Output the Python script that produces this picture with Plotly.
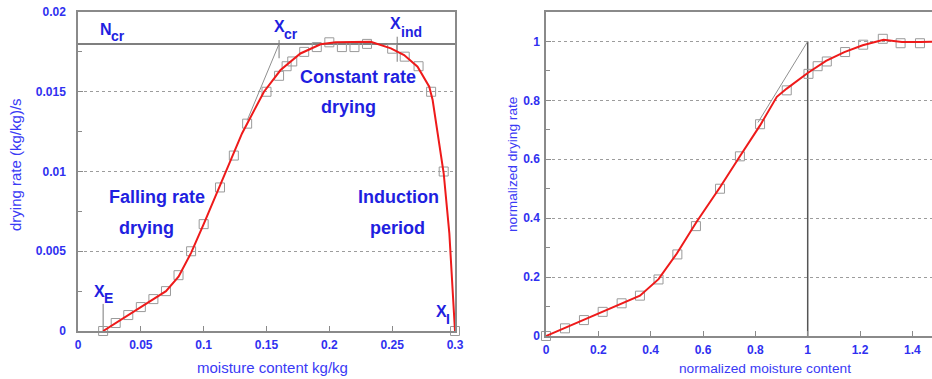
import plotly.graph_objects as go

# ---------------- data: drying-rate curve (left panel) ----------------
moisture = [0.02, 0.03, 0.04, 0.05, 0.06, 0.07, 0.08, 0.09, 0.10, 0.113,
            0.124, 0.1346, 0.15, 0.16, 0.166, 0.1705, 0.18, 0.19, 0.20, 0.21,
            0.22, 0.23, 0.25, 0.26, 0.271, 0.281, 0.291, 0.30]
rate = [0.0, 0.0005, 0.001, 0.0015, 0.002, 0.0025, 0.0035, 0.005, 0.0067, 0.009,
        0.011, 0.013, 0.015, 0.016, 0.0166, 0.0169, 0.0175, 0.0178, 0.0181, 0.0178,
        0.0178, 0.0180, 0.0177, 0.0172, 0.0166, 0.015, 0.010, 0.0]

fit_moisture = [0.02, 0.03, 0.04, 0.05, 0.06, 0.07, 0.08, 0.09, 0.10, 0.113,
                0.124, 0.1306, 0.148, 0.1612, 0.177, 0.193, 0.205, 0.22, 0.233,
                0.249, 0.2595, 0.2702, 0.2795, 0.2822, 0.2875, 0.291, 0.2955, 0.30]
fit_rate = [0.0, 0.0005, 0.001, 0.0015, 0.002, 0.0025, 0.0034, 0.0049, 0.0067, 0.0091,
            0.0112, 0.0124, 0.0150, 0.01636, 0.0174, 0.01798, 0.0181, 0.0181, 0.01813,
            0.01772, 0.0173, 0.01657, 0.01532, 0.01448, 0.01177, 0.00989, 0.00612, 0.0]

# characteristic moisture contents and critical rate
X_E = 0.02
X_CR = 0.16
X_IND = 0.254
N_CR = 0.018
tangent_moisture = [0.1346, X_CR]
tangent_rate = [0.0132, N_CR]

# ---------------- data: normalised curve (right panel) ----------------
norm_moisture = [0.0, 0.0726, 0.145, 0.2166, 0.289, 0.359, 0.43, 0.502, 0.573, 0.665,
                 0.741, 0.818, 0.92, 1.003, 1.038, 1.073, 1.143, 1.212, 1.287, 1.355, 1.429]
norm_rate = [0.0, 0.026, 0.054, 0.082, 0.111, 0.137, 0.192, 0.277, 0.373, 0.50,
             0.61, 0.719, 0.834, 0.89, 0.916, 0.932, 0.964, 0.989, 1.009, 0.994, 0.994]

fit_norm_moisture = [0.0, 0.0726, 0.145, 0.217, 0.289, 0.359, 0.43, 0.50, 0.575, 0.665,
                     0.741, 0.818, 0.882, 0.92, 1.0, 1.07, 1.14, 1.21, 1.29, 1.36, 1.43, 1.5]
fit_norm_rate = [0.0, 0.028, 0.056, 0.084, 0.11, 0.137, 0.193, 0.28, 0.387, 0.505,
                 0.61, 0.715, 0.812, 0.84, 0.893, 0.934, 0.964, 0.987, 1.006, 0.998, 0.998, 1.0]

norm_tangent_moisture = [0.81, 1.0]
norm_tangent_rate = [0.725, 1.0]

# ---------------- styling ----------------
FONT = "Liberation Sans, Arial, sans-serif"
BLUE = "#1f1fe0"
TICK_BLUE = "#3030f0"
RED = "#ee1a1a"
MARK_GRAY = "#9a9a9a"
AXIS_GRAY = "#8a8a8a"
REF_GRAY = "#555555"
GRID_GRAY = "#9c9c9c"
W, H = 932, 379


def px_x(p):
    return p / W


def px_y(p):
    return 1 - p / H


def line_trace(x, y, color, width, xa, ya):
    return go.Scatter(x=x, y=y, mode="lines", line=dict(color=color, width=width),
                      hoverinfo="skip", xaxis=xa, yaxis=ya, cliponaxis=False)


fig = go.Figure()

# left panel
fig.add_trace(line_trace([0, 0.3], [N_CR, N_CR], REF_GRAY, 1.5, "x", "y"))
fig.add_trace(line_trace(tangent_moisture, tangent_rate, "#8f8f8f", 1, "x", "y"))
fig.add_trace(line_trace([X_CR, X_CR], [0.0171, 0.01824], "#7a7a7a", 1, "x", "y"))
fig.add_trace(line_trace([X_IND, X_IND], [0.01688, 0.01845], "#7a7a7a", 1, "x", "y"))
fig.add_trace(line_trace([X_E, X_E], [0, 0.0017], "#7a7a7a", 1, "x", "y"))
fig.add_trace(go.Scatter(x=moisture, y=rate, mode="markers",
                         marker=dict(symbol="square-open", size=9, color=MARK_GRAY,
                                     line=dict(width=1)),
                         xaxis="x", yaxis="y", cliponaxis=False))
fig.add_trace(line_trace(fit_moisture, fit_rate, RED, 2, "x", "y"))

# right panel
fig.add_trace(line_trace([1.0, 1.0], [0, 1.0], REF_GRAY, 1.5, "x2", "y2"))
fig.add_trace(line_trace(norm_tangent_moisture, norm_tangent_rate, "#8f8f8f", 1, "x2", "y2"))
fig.add_trace(go.Scatter(x=norm_moisture, y=norm_rate, mode="markers",
                         marker=dict(symbol="square-open", size=9, color=MARK_GRAY,
                                     line=dict(width=1)),
                         xaxis="x2", yaxis="y2", cliponaxis=False))
fig.add_trace(go.Scatter(x=fit_norm_moisture, y=fit_norm_rate, mode="lines",
                         line=dict(color=RED, width=2), xaxis="x2", yaxis="y2"))

tickfont = dict(family=FONT, size=12, color=TICK_BLUE, weight="bold")
common_axis = dict(showline=True, linecolor=AXIS_GRAY, linewidth=1.5,
                   ticks="inside", ticklen=5, tickcolor=AXIS_GRAY, tickwidth=1,
                   zeroline=False, tickfont=tickfont, automargin=False)

fig.update_layout(
    template="none",
    width=W, height=H,
    margin=dict(l=0, r=0, t=0, b=0, pad=0),
    paper_bgcolor="white", plot_bgcolor="white",
    showlegend=False,
    font=dict(family=FONT, color=BLUE),
    xaxis=dict(domain=[px_x(78), px_x(455)], range=[0, 0.3], dtick=0.05, tick0=0,
               anchor="y", mirror=True, showgrid=False, ticklabelstandoff=2,
               **common_axis),
    yaxis=dict(domain=[px_y(331), px_y(12)], range=[0, 0.02], dtick=0.005, tick0=0,
               anchor="x", mirror=True, showgrid=True, gridcolor=GRID_GRAY,
               griddash="dot", gridwidth=1, ticklabelstandoff=8,
               minor=dict(dtick=0.0025, ticks="inside", ticklen=4,
                          tickcolor=AXIS_GRAY, showgrid=False),
               **common_axis),
    xaxis2=dict(domain=[px_x(546), 1.0], range=[0, (W - 546) / 261.7], dtick=0.2,
                tick0=0, anchor="y2", mirror=True, showgrid=False,
                ticklabelstandoff=2, **common_axis),
    yaxis2=dict(domain=[px_y(336), px_y(12)], range=[0, 1.1], dtick=0.2, tick0=0,
                anchor="x2", mirror=False, showgrid=True, gridcolor=GRID_GRAY,
                griddash="dot", gridwidth=1, ticklabelstandoff=2,
                minor=dict(dtick=0.1, ticks="inside", ticklen=4,
                           tickcolor=AXIS_GRAY, showgrid=False),
                **common_axis),
)

label_font = dict(family=FONT, size=18, color=BLUE, weight="bold")
sym_font = dict(family=FONT, size=16, color=BLUE, weight="bold")
sub_font = dict(family=FONT, size=14, color=BLUE, weight="bold")
title_font = dict(family=FONT, size=15, color="#3a3af5")
title_font_small = dict(family=FONT, size=13.7, color="#3a3af5")

annotations = [
    # region labels, left panel
    dict(x=0.223, y=0.01592, text="Constant rate", font=label_font),
    dict(x=0.215, y=0.01404, text="drying", font=label_font),
    dict(x=0.063, y=0.00838, text="Falling rate", font=label_font),
    dict(x=0.0547, y=0.00644, text="drying", font=label_font),
    dict(x=0.2549, y=0.00838, text="Induction", font=label_font),
    dict(x=0.2543, y=0.00644, text="period", font=label_font),
    # symbols with their subscripts
    dict(x=0.02234, y=0.01893, text="N", font=sym_font),
    dict(x=0.0319, y=0.01850, text="cr", font=sub_font),
    dict(x=0.1604, y=0.01906, text="X", font=sym_font),
    dict(x=0.1692, y=0.01865, text="cr", font=sub_font),
    dict(x=0.2529, y=0.01925, text="X", font=sym_font),
    dict(x=0.2657, y=0.01875, text="ind", font=sub_font),
    dict(x=0.01676, y=0.00245, text="X", font=sym_font),
    dict(x=0.02434, y=0.00207, text="E", font=sub_font),
    dict(x=0.2895, y=0.00121, text="X", font=sym_font),
    dict(x=0.2941, y=0.00075, text="I", font=sub_font),
]
for a in annotations:
    a.update(xref="x", yref="y", showarrow=False, xanchor="center", yanchor="middle")

titles = [
    dict(x=px_x(272.5), y=px_y(367.5), text="moisture content kg/kg", textangle=0,
         font=title_font),
    dict(x=px_x(15), y=px_y(165), text="drying rate (kg/kg)/s", textangle=-90,
         font=title_font),
    dict(x=px_x(765), y=px_y(368), text="normalized moisture content", textangle=0,
         font=title_font_small),
    dict(x=px_x(512), y=px_y(165), text="normalized drying rate", textangle=-90,
         font=title_font_small),
]
for t in titles:
    t.update(xref="paper", yref="paper", showarrow=False, xanchor="center",
             yanchor="middle")

fig.update_layout(annotations=annotations + titles)

fig.write_html("out.html")
